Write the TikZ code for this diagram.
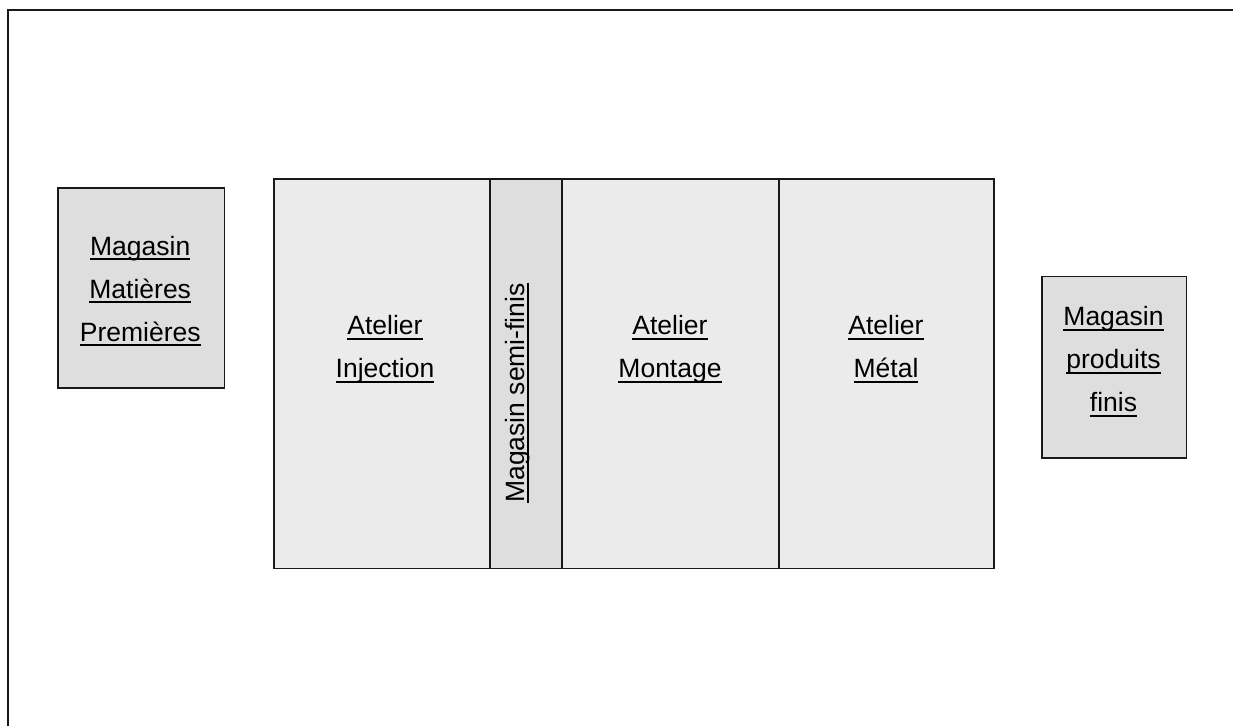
\documentclass[tikz,border=0pt]{standalone}
\usepackage{fontspec}
\setmainfont{Liberation Sans}
% underline at a fixed depth below the baseline (descenders cross it)
\newcommand\ulbox[1]{\setbox0\hbox{#1}\rlap{\rule[-5pt]{\wd0}{1.6pt}}\box0}
\begin{document}
\begin{tikzpicture}[x=1pt,y=-1pt,
  storebox/.style={draw=black!90,line width=1.6pt,fill=black!13,inner sep=0pt,anchor=north west},
  shopbox/.style={draw=black!90,line width=1.6pt,fill=black!8,inner sep=0pt,anchor=north west},
  lbl/.style={font=\fontsize{26.5}{43}\selectfont,align=center,inner sep=0pt,anchor=base}]
\useasboundingbox (0,0) rectangle (1233,726);

% site frame
\draw[line width=2pt,draw=black!90] (8,726) -- (8,9.5) -- (1233,9.5);

% raw materials store
\node[storebox,minimum width=166.5pt,minimum height=200.3pt] (mp) at (57,187) {};
% workshops and semi-finished store
\node[shopbox,minimum width=216pt,minimum height=389.4pt] (inj) at (273.3,178.3) {};
\node[storebox,minimum width=72pt,minimum height=389.4pt] (msf) at (489.3,178.3) {};
\node[shopbox,minimum width=216.7pt,minimum height=389.4pt] (mon) at (561.3,178.3) {};
\node[shopbox,minimum width=215.3pt,minimum height=389.4pt] (met) at (778,178.3) {};
% finished products store
\node[storebox,minimum width=144.4pt,minimum height=181.6pt] (pf) at (1041.3,275.7) {};

% labels (anchored on the baseline of their last line)
\node[lbl] (tmp) at (140.2,341) {\ulbox{Magasin}\\\ulbox{Matières}\\\ulbox{Premières}};
\node[lbl] (tinj) at (385,377.5) {\ulbox{Atelier}\\\ulbox{Injection}};
\node[lbl,rotate=90] (tmsf) at (524,393) {\ulbox{Magasin semi-finis}};
\node[lbl] (tmon) at (670,377.5) {\ulbox{Atelier}\\\ulbox{Montage}};
\node[lbl] (tmet) at (886,377.5) {\ulbox{Atelier}\\\ulbox{Métal}};
\node[lbl] (tpf) at (1113.5,411.7) {\ulbox{Magasin}\\\ulbox{produits}\\\ulbox{finis}};
\end{tikzpicture}
\end{document}
